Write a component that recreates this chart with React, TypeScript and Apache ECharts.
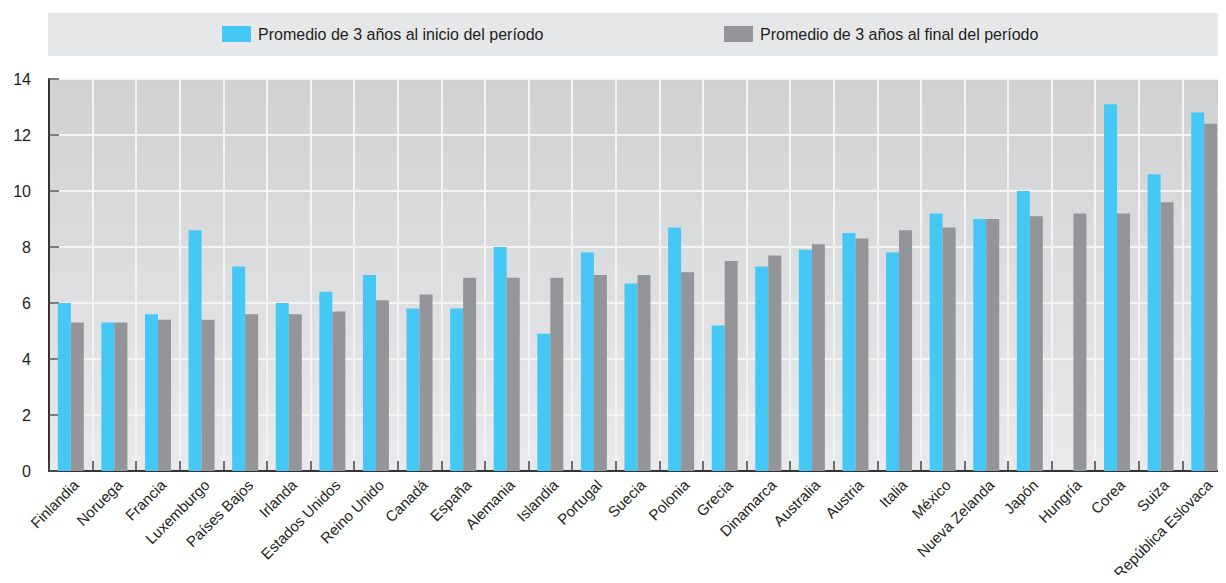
import React, { useEffect, useRef } from "react";
import * as echarts from "echarts";

const categories = [
  "Finlandia", "Noruega", "Francia", "Luxemburgo", "Países Bajos", "Irlanda",
  "Estados Unidos", "Reino Unido", "Canadá", "España", "Alemania", "Islandia",
  "Portugal", "Suecia", "Polonia", "Grecia", "Dinamarca", "Australia", "Austria",
  "Italia", "México", "Nueva Zelanda", "Japón", "Hungría", "Corea", "Suiza",
  "República Eslovaca",
];

const inicio: (number | null)[] = [
  6.0, 5.3, 5.6, 8.6, 7.3, 6.0, 6.4, 7.0, 5.8, 5.8, 8.0, 4.9, 7.8, 6.7, 8.7,
  5.2, 7.3, 7.9, 8.5, 7.8, 9.2, 9.0, 10.0, null, 13.1, 10.6, 12.8,
];

const final: number[] = [
  5.3, 5.3, 5.4, 5.4, 5.6, 5.6, 5.7, 6.1, 6.3, 6.9, 6.9, 6.9, 7.0, 7.0, 7.1,
  7.5, 7.7, 8.1, 8.3, 8.6, 8.7, 9.0, 9.1, 9.2, 9.2, 9.6, 12.4,
];

const seriesNames = [
  "Promedio de 3 años al inicio del período",
  "Promedio de 3 años al final del período",
];

const FONT = "'Liberation Sans Narrow', 'Arial Narrow', 'Liberation Sans', sans-serif";

export default function App() {
  const ref = useRef<HTMLDivElement>(null);
  useEffect(() => {
    if (!ref.current) return;
    const chart = echarts.init(ref.current, null, { renderer: "svg" });
    const legendBase = {
      top: 26,
      padding: 0,
      itemWidth: 29,
      itemHeight: 16,
      icon: "rect",
      textStyle: { fontFamily: FONT, fontSize: 16, color: "#231f20", padding: [0, 0, 0, 2] },
    };
    chart.setOption({
      animation: false,
      textStyle: { fontFamily: FONT },
      graphic: [
        {
          type: "rect",
          z: -10,
          shape: { x: 48, y: 13, width: 1178, height: 43 },
          style: { fill: "#e6e7e8" },
        },
      ],
      legend: [
        { ...legendBase, data: [seriesNames[0]], left: 222 },
        { ...legendBase, data: [seriesNames[1]], left: 724 },
      ],
      grid: {
        left: 49,
        right: 0,
        top: 79,
        bottom: 112,
        show: true,
        borderWidth: 0,
        backgroundColor: new echarts.graphic.LinearGradient(0, 0, 0, 1, [
          { offset: 0, color: "#d0d1d3" },
          { offset: 1, color: "#e9eaeb" },
        ]),
      },
      xAxis: {
        type: "category",
        data: categories,
        boundaryGap: true,
        axisLine: { show: true, lineStyle: { color: "#333333", width: 2 } },
        axisTick: {
          show: true,
          inside: true,
          length: 10,
          alignWithLabel: false,
          lineStyle: { color: "#444444", width: 1.5 },
        },
        splitLine: { show: true, lineStyle: { color: "#f4f4f5", width: 2 } },
        axisLabel: {
          interval: 0,
          rotate: 45,
          margin: 6,
          verticalAlign: "top",
          fontFamily: FONT,
          fontSize: 15,
          color: "#231f20",
        },
      },
      yAxis: {
        type: "value",
        min: 0,
        max: 14,
        interval: 2,
        axisLine: { show: true, lineStyle: { color: "#333333", width: 2 } },
        axisTick: {
          show: true,
          inside: true,
          length: 10,
          lineStyle: { color: "#555555", width: 1.5 },
        },
        splitLine: { show: true, lineStyle: { color: "#f4f4f5", width: 2 } },
        axisLabel: {
          margin: 18,
          fontFamily: FONT,
          fontSize: 16,
          color: "#231f20",
        },
      },
      series: [
        {
          name: seriesNames[0],
          type: "bar",
          data: inicio,
          barWidth: 13,
          barGap: "0%",
          itemStyle: { color: "#45c8f5" },
        },
        {
          name: seriesNames[1],
          type: "bar",
          data: final,
          barWidth: 13,
          barGap: "0%",
          itemStyle: { color: "#939598" },
        },
      ],
    });
    return () => chart.dispose();
  }, []);
  return <div ref={ref} style={{ width: 1226, height: 583, margin: -8 }} />;
}
